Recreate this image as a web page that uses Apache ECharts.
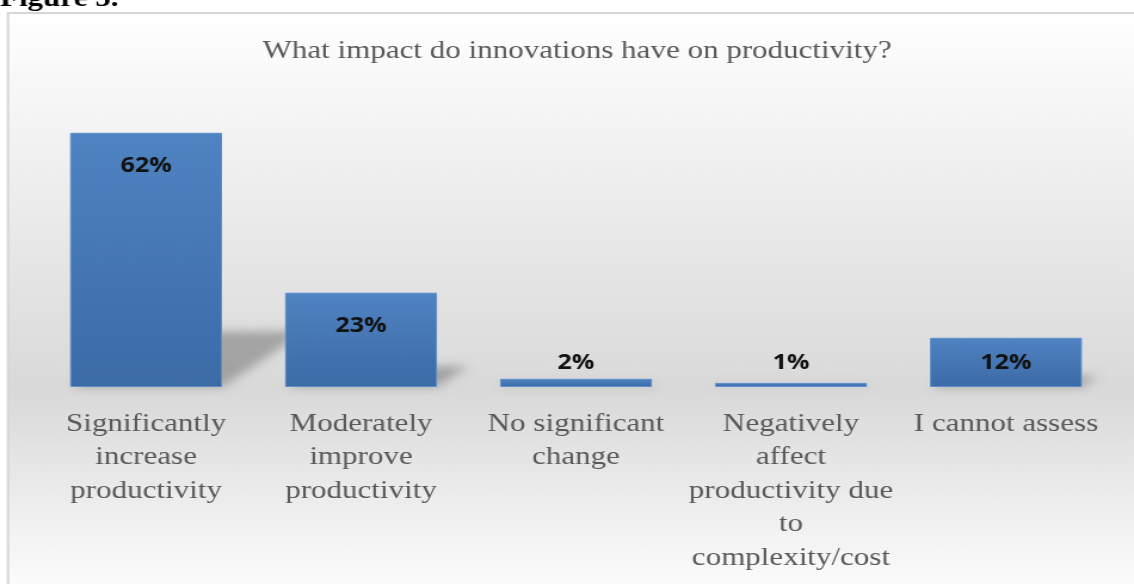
<!DOCTYPE html>
<html>
<head>
<meta charset="utf-8">
<script src="https://cdn.jsdelivr.net/npm/echarts@6/dist/echarts.min.js"></script>
<style>
  html, body { margin: 0; padding: 0; background: #ffffff; overflow: hidden; }
  /* The chart is laid out on a narrower canvas and widened horizontally,
     which gives the wide serif lettering of the original figure. */
  #chart { width: 950px; height: 584px; transform: scaleX(1.19368); transform-origin: 0 0; }
</style>
</head>
<body>
<div id="chart"></div>
<script>
const STRETCH = 1134 / 950;

const chartTitle = 'What impact do innovations have on productivity?';
const figureCaption = 'Figure 5.';
const categories = [
  'Significantly\nincrease\nproductivity',
  'Moderately\nimprove\nproductivity',
  'No significant\nchange',
  'Negatively\naffect\nproductivity due\nto\ncomplexity/cost',
  'I cannot assess'
];
const shares = [62, 23, 2, 1, 12];

const BAR_WIDTH = 127.3;
// the shadow shape is drawn off-canvas and only its blurred shadow is shifted back
const SHADOW_SHIFT = 3000;

const bigLabel = { position: 'insideTop', distance: 23 };
const smallLabel = { position: 'insideBottom', distance: 13 };

const chart = echarts.init(document.getElementById('chart'), null, { renderer: 'canvas' });

chart.setOption({
  animation: false,
  backgroundColor: 'transparent',
  title: {
    text: chartTitle,
    left: 478.5,
    top: 33,
    textAlign: 'center',
    textStyle: { fontFamily: 'Liberation Serif', fontSize: 26, fontWeight: 'normal', color: '#595959' }
  },
  graphic: [
    {
      type: 'rect',
      z: -100,
      silent: true,
      shape: { x: 6.7, y: 13, width: 2000, height: 590 },
      style: {
        fill: new echarts.graphic.LinearGradient(0, 0, 0, 1, [
          { offset: 0, color: '#ffffff' },
          { offset: 0.64, color: '#d9d9d9' },
          { offset: 1, color: '#ffffff' }
        ]),
        stroke: '#d6d6d6',
        lineWidth: 2
      }
    },
    {
      type: 'text',
      x: 0,
      y: -1,
      silent: true,
      style: {
        text: figureCaption,
        font: 'bold 26px "Liberation Serif"',
        fill: '#000000',
        align: 'left',
        verticalAlign: 'middle'
      }
    }
  ],
  grid: { left: 32.3, right: 17.2, top: 100, bottom: 197, containLabel: false },
  xAxis: {
    type: 'category',
    data: categories,
    axisLine: { show: false },
    axisTick: { show: false },
    axisLabel: {
      interval: 0,
      margin: 20,
      fontFamily: 'Liberation Serif',
      fontSize: 26,
      lineHeight: 33.6,
      color: '#595959',
      align: 'center'
    }
  },
  yAxis: {
    type: 'value',
    min: 0,
    max: 70,
    show: false,
    splitLine: { show: false }
  },
  series: [
    {
      // slanted, soft drop shadow cast behind each bar
      type: 'custom',
      z: 1,
      silent: true,
      clip: false,
      data: shares.map((v, i) => [i, v]),
      encode: { x: 0, y: 1 },
      renderItem: function (params, api) {
        const base = api.coord([api.value(0), 0]);
        const top = api.coord([api.value(0), api.value(1)]);
        const h = base[1] - top[1];
        const half = BAR_WIDTH / 2;
        const dx = 0.33 * h / STRETCH;
        const dy = 0.22 * h;
        const x0 = base[0] - SHADOW_SHIFT;
        return {
          type: 'polygon',
          shape: {
            points: [
              [x0 - half + 2, base[1]],
              [x0 + half, base[1]],
              [x0 + half + dx, base[1] - dy],
              [x0 - half + dx, base[1] - dy]
            ]
          },
          style: {
            fill: '#000000',
            shadowBlur: 10,
            shadowOffsetX: SHADOW_SHIFT,
            shadowColor: 'rgba(0,0,0,0.26)'
          }
        };
      }
    },
    {
      type: 'bar',
      z: 3,
      barWidth: BAR_WIDTH,
      data: shares.map(v => ({ value: v, label: v >= 20 ? bigLabel : smallLabel })),
      itemStyle: {
        color: new echarts.graphic.LinearGradient(0, 0, 0, 1, [
          { offset: 0, color: '#4f83c1' },
          { offset: 1, color: '#3c6ba6' }
        ]),
        borderColor: '#5d8ecb',
        borderWidth: 1
      },
      label: {
        show: true,
        formatter: '{c}%',
        fontFamily: 'Open Sans',
        fontWeight: 'bold',
        fontSize: 21,
        color: '#111111'
      }
    }
  ]
});
</script>
</body>
</html>
